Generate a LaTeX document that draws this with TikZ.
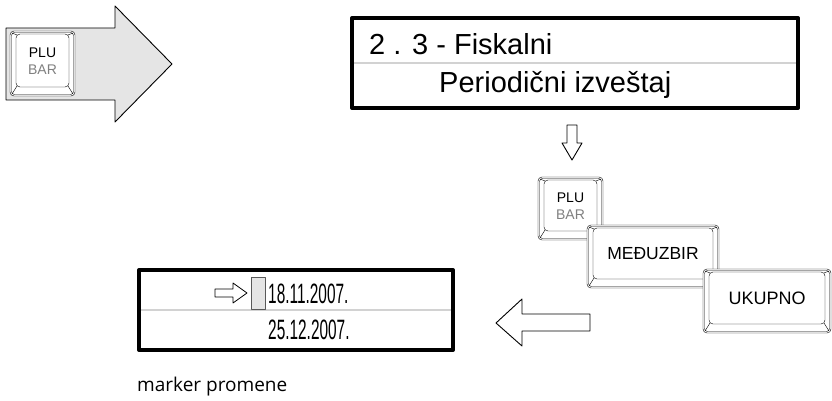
\documentclass[tikz,border=0pt]{standalone}
\usepackage{fontspec}
\setmainfont{Liberation Sans}
\newfontfamily\lcdfont{Liberation Sans}
\newfontfamily\lcdnarrow{Liberation Sans}[FakeStretch=0.55]
\newfontfamily\notefont{Open Sans}

\begin{document}
\begin{tikzpicture}[x=1pt,y=-1pt,line join=round,
		keylabel/.style={inner sep=0pt,align=center,font=\fontsize{14}{17}\selectfont},
		lcd/.style={inner sep=0pt,anchor=base west,font=\lcdfont\fontsize{29}{29}\selectfont},
		lcddate/.style={inner sep=0pt,anchor=base west,font=\lcdnarrow\fontsize{28}{28}\selectfont},
		display/.style={line width=4pt},
		rowline/.style={gray!35,line width=1.2pt},
		hollow/.style={draw=black,fill=white,line width=0.9pt}]
	\newcommand\DrawKey[6]{%
		\fill[white,rounded corners=4] (#2,#3) rectangle (#4,#5);
		\draw[rounded corners=4] (#2,#3) rectangle (#4,#5);
		\draw[rounded corners=3] (#2+1.5,#3+1.5) rectangle (#4-1.5,#5-1.5);
		\draw[rounded corners=4] (#2+6,#3+3) rectangle (#4-6,#5-9);
		\draw (#2+2,#3+2) -- (#2+7,#3+4) (#4-2,#3+2) -- (#4-7,#3+4)
		(#2+2,#5-2) -- (#2+7,#5-10) (#4-2,#5-2) -- (#4-7,#5-10);
		\node[keylabel] (#1) at ({(#2+#4)/2},{(#3+#5)/2-2.5}) {#6};
	}
	\useasboundingbox (0,0) rectangle (832,401);
	% velika strelica sa tasterom
	\draw[fill=gray!20,line width=0.9pt] (6,28) -- (115,28) -- (115,6) -- (172,64)
	-- (115,122) -- (115,100) -- (6,100) -- cycle;
	\DrawKey{pluA}{10}{31}{75}{96}{PLU\\\textcolor{gray}{BAR}}
	% gornji displej
	\draw[display] (352,18) rectangle (798,108);
	\draw[rowline] (354,63) -- (796,63);
	\node[lcd] (rowA) at (369,55) {2 . 3 - Fiskalni};
	\node[lcd] (rowB) at (439,93) {Periodi\v{c}ni izve\v{s}taj};
	% strelica na dole
	\draw[hollow] (567,125) -- (577,125) -- (577,143) -- (582,143) -- (572,160)
	-- (562,143) -- (567,143) -- cycle;
	% tasteri
	\foreach \n/\xa/\ya/\xb/\yb/\t in {pluB/538/177/603/240/{PLU\\\textcolor{gray}{BAR}},
		medju/587/225/719/288/{\fontsize{17.5}{20}\selectfont ME\DJ UZBIR},
		total/703/269/831/333/{\fontsize{18}{20}\selectfont UKUPNO}}
	\DrawKey{\n}{\xa}{\ya}{\xb}{\yb}{\t};
	% strelica levo
	\draw[hollow] (590,314) -- (522,314) -- (522,299) -- (496,323) -- (522,346)
	-- (522,331) -- (590,331) -- cycle;
	% donji displej
	\draw[display] (139,270) rectangle (453,350);
	\draw[rowline] (141,310) -- (451,310);
	\draw[hollow,line width=0.8pt] (215,289) -- (233,289) -- (233,283) -- (247,293)
	-- (233,303) -- (233,297) -- (215,297) -- cycle;
	\draw[fill=gray!20,draw=gray!70!black,line width=0.9pt] (251,277) rectangle (265,309);
	\node[lcddate] (dateA) at (268,303) {18.11.2007.};
	\node[lcddate] (dateB) at (268,339) {25.12.2007.};
	\node[inner sep=0pt,anchor=base west,font=\notefont\fontsize{19}{19}\selectfont]
	(marker) at (137,391) {marker promene};
\end{tikzpicture}
\end{document}
